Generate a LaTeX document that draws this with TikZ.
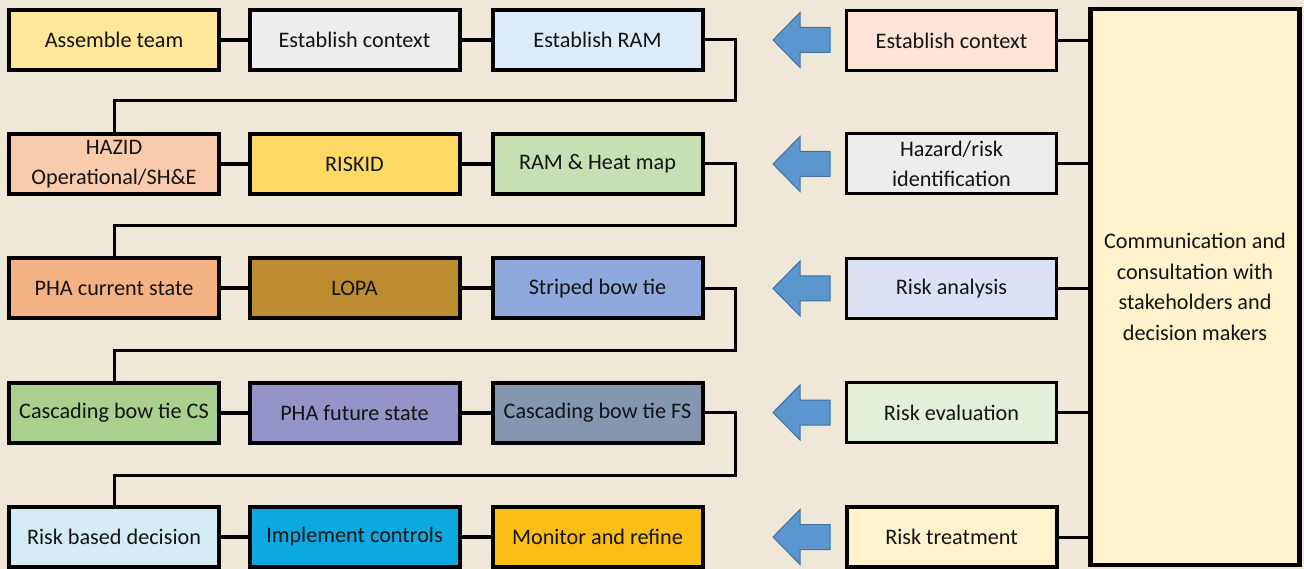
\documentclass[tikz,border=0pt]{standalone}
\usepackage{fontspec}
\setmainfont{Carlito}
\usetikzlibrary{calc}
\definecolor{bgc}{HTML}{EFE7D7}
\definecolor{cA}{HTML}{FFE699}
\definecolor{cB}{HTML}{EDEDED}
\definecolor{cC}{HTML}{DDEBF7}
\definecolor{cD}{HTML}{F8CBAD}
\definecolor{cE}{HTML}{FFD966}
\definecolor{cF}{HTML}{C6E0B4}
\definecolor{cG}{HTML}{F4B183}
\definecolor{cH}{HTML}{BD8C2F}
\definecolor{cI}{HTML}{8EA9DB}
\definecolor{cJ}{HTML}{A9D08E}
\definecolor{cK}{HTML}{9494C8}
\definecolor{cL}{HTML}{8496B0}
\definecolor{cM}{HTML}{D5ECF4}
\definecolor{cN}{HTML}{0AAAE0}
\definecolor{cO}{HTML}{FBBE14}
\definecolor{rA}{HTML}{FCE4D6}
\definecolor{rB}{HTML}{EDEDED}
\definecolor{rC}{HTML}{D9E1F2}
\definecolor{rD}{HTML}{E2EFDA}
\definecolor{rE}{HTML}{FFF2CC}
\definecolor{arrf}{HTML}{5B96CF}
\definecolor{arrd}{HTML}{41719C}
\definecolor{txt}{HTML}{141414}
\tikzset{
  box/.style={draw=black, line width=4pt, minimum width=210pt, minimum height=60pt,
    inner sep=2pt, align=center, text=txt, font=\fontsize{22.2}{30.5}\selectfont},
  rbox/.style={box, line width=3pt},
  link/.style={line width=4pt},
  elbow/.style={line width=3pt},
  rlink/.style={line width=3pt},
  blockarrow/.style={fill=arrf, draw=arrd, line width=1pt, line join=miter}
}
\begin{document}
\begin{tikzpicture}[x=1pt,y=-1pt]
\fill[bgc] (0,0) rectangle (1304,569);
\useasboundingbox (0,0) rectangle (1304,569);
% left grid
\node[box, fill=cA] (a1) at (114,40) {Assemble team};
\node[box, fill=cB] (a2) at (354.5,40) {Establish context};
\node[box, fill=cC] (a3) at (597.5,40) {Establish RAM};
\node[box, fill=cD] (b1) at (114,164) {HAZID\\Operational/SH\&E};
\node[box, fill=cE] (b2) at (354.5,164) {RISKID};
\node[box, fill=cF] (b3) at (597.5,164) {RAM \& Heat map};
\node[box, fill=cG] (c1) at (114,288.5) {PHA current state};
\node[box, fill=cH] (c2) at (354.5,288.5) {LOPA};
\node[box, fill=cI] (c3) at (597.5,288.5) {Striped bow tie};
\node[box, fill=cJ] (d1) at (114,412.5) {Cascading bow tie CS};
\node[box, fill=cK] (d2) at (354.5,412.5) {PHA future state};
\node[box, fill=cL] (d3) at (597.5,412.5) {Cascading bow tie FS};
\node[box, fill=cM] (e1) at (114,537) {Risk based decision};
\node[box, fill=cN] (e2) at (354.5,537) {Implement controls};
\node[box, fill=cO] (e3) at (597.5,537) {Monitor and refine};
% row links
\foreach \r in {a,b,c,d,e}{
  \draw[link] (\r1.east) -- (\r2.west);
  \draw[link] (\r2.east) -- (\r3.west);
}
% elbows
\foreach \p/\n/\y in {a/b/101, b/c/226, c/d/350, d/e/475}{
  \draw[elbow] (\p3.east) -- ++(31,0) |- (114,\y) -- (\n1.north);
}
% right column
\node[rbox, fill=rA] (r1) at (951.5,40.5) {Establish context};
\node[rbox, fill=rB] (r2) at (951.5,164) {Hazard/risk\\identification};
\node[rbox, fill=rC] (r3) at (951.5,288.5) {Risk analysis};
\node[rbox, fill=rD] (r4) at (951.5,412.5) {Risk evaluation};
\node[rbox, fill=rE, line width=4pt] (r5) at (951.5,537) {Risk treatment};
\node[box, fill=rE, minimum width=209pt, minimum height=556pt, line width=4.5pt] (big) at (1195,287)
  {Communication and\\consultation with\\stakeholders and\\decision makers};
\foreach \i in {1,...,5}{
  \draw[rlink] (r\i.east) -- (r\i.east -| big.west);
}
% block arrows
\foreach \i/\y in {1/40, 2/164, 3/288.5, 4/412.5, 5/537}{
  \coordinate (ar\i) at (801.5,\y);
  \draw[blockarrow] ($(ar\i)+(-28.5,0)$) -- ($(ar\i)+(-1.5,-27.5)$) -- ($(ar\i)+(-1.5,-12.5)$)
    -- ($(ar\i)+(28.5,-12.5)$) -- ($(ar\i)+(28.5,12.5)$) -- ($(ar\i)+(-1.5,12.5)$)
    -- ($(ar\i)+(-1.5,27.5)$) -- cycle;
}
\end{tikzpicture}
\end{document}
